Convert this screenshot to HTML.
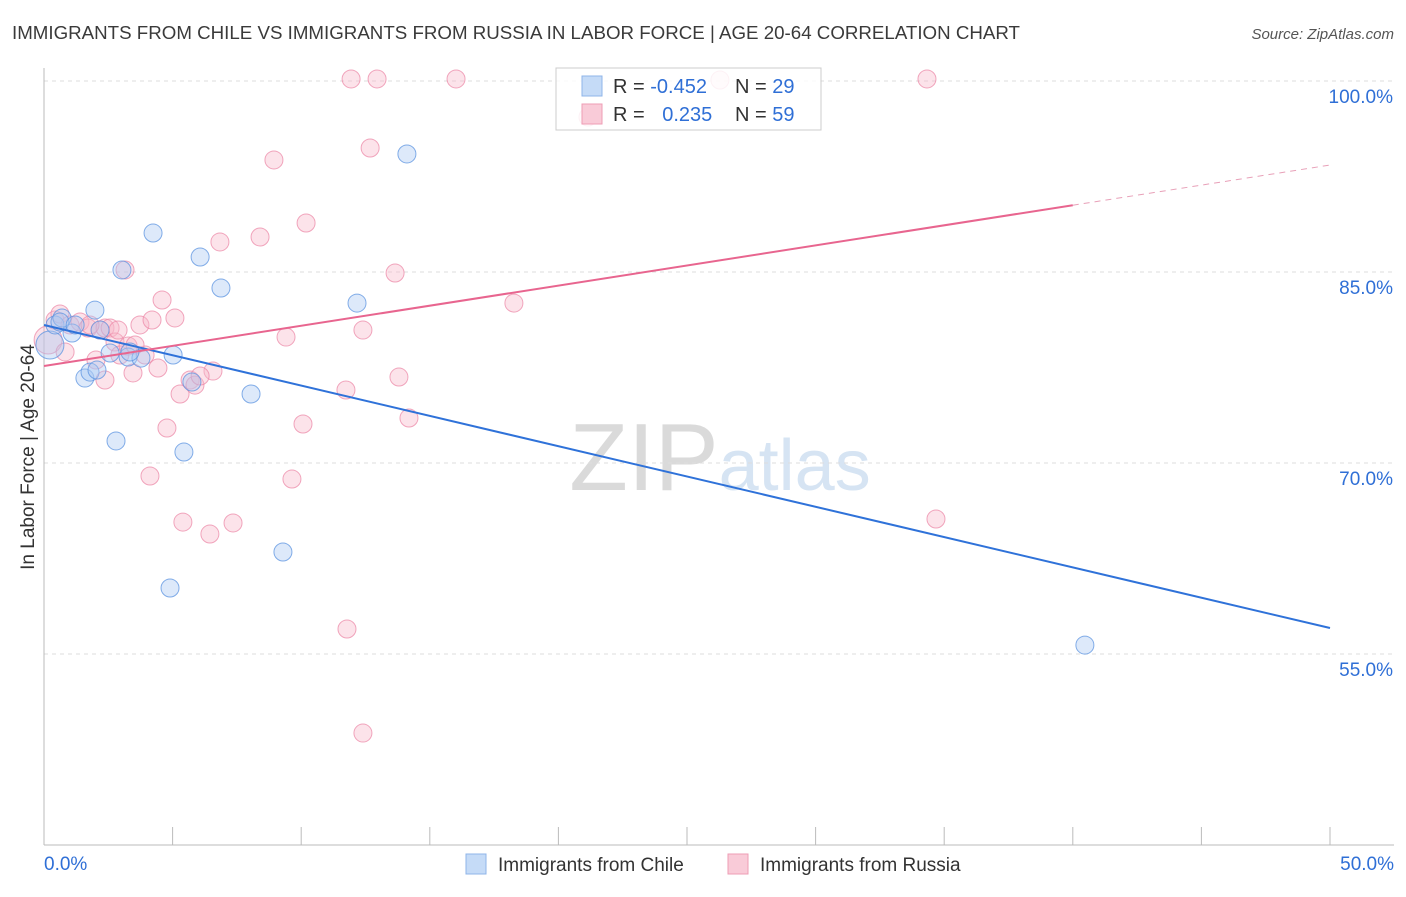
<!DOCTYPE html>
<html><head><meta charset="utf-8"><style>
body{margin:0;background:#fff;font-family:"Liberation Sans",sans-serif}
svg text{font-family:"Liberation Sans",sans-serif}
</style></head><body>
<svg id="chart" width="1406" height="892" xmlns="http://www.w3.org/2000/svg">
<text x="12" y="39" font-size="18" fill="#3a3a3a" textLength="1008" lengthAdjust="spacingAndGlyphs">IMMIGRANTS FROM CHILE VS IMMIGRANTS FROM RUSSIA IN LABOR FORCE | AGE 20-64 CORRELATION CHART</text>
<text x="1394" y="39" font-size="15" fill="#555" text-anchor="end" font-style="italic">Source: ZipAtlas.com</text>
<text x="720" y="490" font-size="96" fill="#e4e4e4" text-anchor="middle" font-family="Liberation Serif"><tspan fill="#dadada">ZIP</tspan><tspan fill="#d6e4f3" font-family="Liberation Sans" font-size="72">atlas</tspan></text>
<g id="grid"></g><g id="axes"></g><g id="pts"></g><g id="lines"></g>
<text transform="translate(34,457) rotate(-90)" font-size="19" fill="#333" text-anchor="middle">In Labor Force | Age 20-64</text>
<g>
<rect x="556" y="68" width="265" height="62" fill="#fff" fill-opacity="0.85" stroke="#ccc"/>
<rect x="582" y="76" width="20" height="20" fill="#c5dbf7" stroke="#8fb4e8"/>
<rect x="582" y="104" width="20" height="20" fill="#f9cbd8" stroke="#ee9db5"/>
<text x="613" y="93" font-size="20" fill="#333">R = <tspan fill="#2f6fd6">-0.452</tspan></text>
<text x="735" y="93" font-size="20" fill="#333">N = <tspan fill="#2f6fd6">29</tspan></text>
<text x="613" y="121" font-size="20" fill="#333">R = <tspan fill="#2f6fd6" dx="12">0.235</tspan></text>
<text x="735" y="121" font-size="20" fill="#333">N = <tspan fill="#2f6fd6">59</tspan></text>
</g>
<g>
<rect x="466" y="854" width="20" height="20" fill="#c5dbf7" stroke="#8fb4e8"/>
<text x="498" y="871" font-size="19" fill="#333">Immigrants from Chile</text>
<rect x="728" y="854" width="20" height="20" fill="#f9cbd8" stroke="#ee9db5"/>
<text x="760" y="871" font-size="19" fill="#333">Immigrants from Russia</text>
</g>
</svg>
<script>
const yTicks=[100,85,70,55];
const yTickLabels=["100.0%","85.0%","70.0%","55.0%"];
const xTickLabels=["0.0%","50.0%"];
const chileX=[.23,.43,.70,1.09,1.59,1.79,1.98,2.06,2.57,2.80,3.03,3.27,3.77,4.24,4.90,5.02,5.44,6.07,6.88,8.05,9.29,12.17,14.11,40.47,.62,1.21,2.18,3.34,5.75];
const chileY=[79.27,80.84,81.39,80.21,76.67,77.14,82.01,77.30,78.64,71.73,85.16,78.32,78.24,88.06,60.18,78.48,70.86,86.18,83.74,75.42,63.01,82.56,94.27,55.70,81.07,80.84,80.44,78.72,76.36];
const russiaX=[.16,.43,.62,.82,1.01,1.40,1.71,2.02,2.18,2.37,2.57,2.76,2.95,3.15,3.27,3.46,3.73,3.93,4.20,4.43,4.59,4.78,5.09,5.29,5.40,5.68,5.87,6.45,6.57,6.84,7.35,8.40,8.94,9.41,9.64,10.07,10.19,11.74,11.78,11.94,12.40,12.40,12.68,12.95,13.65,13.80,14.19,16.02,18.27,21.15,26.28,34.33,34.68,4.12,1.79,2.88,6.07,3.54,2.37];
const russiaY=[79.66,81.23,81.70,78.72,80.84,81.07,80.60,78.09,80.44,80.60,80.60,79.50,78.48,85.16,79.19,77.07,80.84,78.48,81.23,77.46,82.80,72.75,81.39,75.42,65.36,76.52,76.12,64.42,77.22,87.36,65.29,87.75,93.80,79.89,68.74,73.06,88.85,75.73,56.96,100.16,80.44,48.79,94.74,100.16,84.92,76.75,73.53,100.16,82.56,97.17,100.08,100.16,65.60,68.98,80.84,80.44,76.83,79.27,76.52];
const chileTrend=[80.84,57.04];
const russiaTrend=[77.62,93.40];
const sx=v=>44+v/50*1286;
const sy=v=>81+(100-v)*12.733;
const NS="http://www.w3.org/2000/svg";
function mk(tag,attrs,parent){const e=document.createElementNS(NS,tag);for(const k in attrs)e.setAttribute(k,attrs[k]);document.getElementById(parent).appendChild(e);return e;}
yTicks.forEach((t,i)=>{
 const l=mk('line',{x1:44,x2:1394,y1:sy(t),y2:sy(t),stroke:'#ddd','stroke-dasharray':'4,4'},'grid');
 
 
 const tx=mk('text',{x:1393,y:sy(t)+22,'font-size':19,fill:'#2f6fd6','text-anchor':'end'},'grid');
 tx.textContent=yTickLabels[i];
 
 
});
const ax=mk('line',{x1:44,x2:44,y1:68,y2:845,stroke:'#bbb'},'axes');


const bx=mk('line',{x1:44,x2:1394,y1:845,y2:845,stroke:'#bbb'},'axes');


for(let i=0;i<=10;i++){
 const t=mk('line',{x1:sx(i*5),x2:sx(i*5),y1:827,y2:845,stroke:'#bbb'},'axes');
 
 
}
[[0,'start',44],[50,'end',1394]].forEach((d,i)=>{
 const t=mk('text',{x:d[2],y:870,'font-size':19,fill:'#2f6fd6','text-anchor':d[1]},'axes');
 t.textContent=xTickLabels[i];
 
 
});
function dots(X,Y,fill,stroke,name){
 X.forEach((x,i)=>{
  const c=mk('circle',{cx:sx(x),cy:sy(Y[i]),r:i===0?14:9,fill:fill,'fill-opacity':0.4,stroke:stroke,'stroke-opacity':0.75,'stroke-width':1},'pts');
  
  
 });
}
dots(russiaX,russiaY,'#f7b8ca','#ec8aa8','russia-point');
dots(chileX,chileY,'#a9c9f2','#5b93e0','chile-point');
const bl=mk('line',{x1:sx(0),y1:sy(chileTrend[0]),x2:sx(50),y2:sy(chileTrend[1]),stroke:'#2f72d9','stroke-width':2},'lines');


const rMid=russiaTrend[0]+(russiaTrend[1]-russiaTrend[0])*0.8;
const pl=mk('line',{x1:sx(0),y1:sy(russiaTrend[0]),x2:sx(40),y2:sy(rMid),stroke:'#e8658f','stroke-width':2},'lines');


const pd=mk('line',{x1:sx(40),y1:sy(rMid),x2:sx(50),y2:sy(russiaTrend[1]),stroke:'#e8a0b8','stroke-width':1,'stroke-dasharray':'6,5'},'lines');


</script>
</body></html>
